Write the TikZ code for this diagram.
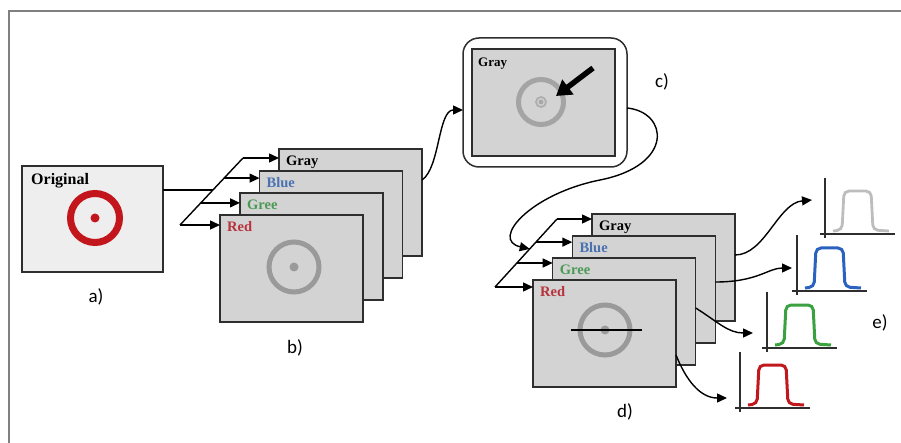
\documentclass[tikz,border=0pt]{standalone}
\usepackage{fontspec}
\setmainfont{Liberation Serif}
\newfontfamily\labfont{Carlito}
\usetikzlibrary{arrows.meta,calc}
\definecolor{boxline}{HTML}{2E2E2E}
\definecolor{boxgray}{HTML}{D3D3D3}
\definecolor{lightpanel}{HTML}{EEEEEE}
\definecolor{ringred}{HTML}{C3161C}
\definecolor{ringgray}{HTML}{9A9A9A}
\definecolor{framecol}{HTML}{808080}
\definecolor{labblue}{HTML}{4A72B0}
\definecolor{labgreen}{HTML}{4A9A55}
\definecolor{labred}{HTML}{B8323C}
\definecolor{plotgray}{HTML}{BDBDBD}
\definecolor{plotblue}{HTML}{2B62C0}
\definecolor{plotgreen}{HTML}{3AA040}
\definecolor{plotred}{HTML}{C0181C}
\newcommand\drawprofile[4]{%
  \begin{scope}[shift={(#1,#2)}]
    \draw[line width=1.3pt, draw=boxline] (0,4) -- (0,-56);
    \draw[line width=1.3pt, draw=boxline] (-5,0) -- (70,0);
    \draw[line width=#4, draw=#3, rounded corners=5pt] (8,-3) -- (17,-4) -- (19,-43) -- (46,-43) -- (48,-4) -- (64,-3);
  \end{scope}}
\begin{document}
\begin{tikzpicture}[x=1pt,y=-1pt,
  panel/.style={draw=boxline, line width=1.5pt, fill=boxgray, minimum width=143pt, minimum height=107pt, inner sep=0pt, outer sep=0pt, anchor=north west},
  chan/.style={anchor=base west, inner sep=0pt, font=\bfseries\fontsize{14.5}{17}\selectfont},
  arr/.style={line width=1.4pt, draw=black, -{Triangle[length=10pt,width=9pt]}},
  conn/.style={line width=1.4pt, draw=black},
  tag/.style={font=\labfont\fontsize{19}{22}\selectfont, inner sep=0pt},
  ring/.style={line width=5pt, draw=ringgray},
]
\useasboundingbox (0,0) rectangle (901,443);
\draw[framecol, line width=1.5pt] (9,443) -- (9,11) -- (901,11);

% ---- a) original
\node[panel, fill=lightpanel, minimum width=141pt, minimum height=106pt] (a) at (22,166) {};
\node[anchor=base west, inner sep=0pt, font=\bfseries\fontsize{16}{18}\selectfont] (atxt) at ([xshift=9pt,yshift=-19pt]a.north west) {Original};
\draw[line width=7pt, draw=ringred] (95,218) circle (24.5pt);
\fill[ringred] (95,218) circle (4.5pt);
\node[tag] (la) at (96,297) {a)};

% ---- b) channels
\node[panel] (bg) at (279,149) {};
\node[chan] (bgt) at ([xshift=7pt,yshift=-17pt]bg.north west) {Gray};
\node[panel] (bb) at (259.5,171) {};
\node[chan, text=labblue] (bbt) at ([xshift=7pt,yshift=-17pt]bb.north west) {Blue};
\node[panel] (bgr) at (240,193) {};
\node[chan, text=labgreen] (bgrt) at ([xshift=7pt,yshift=-17pt]bgr.north west) {Gree};
\node[panel] (br) at (220,215) {};
\node[chan, text=labred] (brt) at ([xshift=7pt,yshift=-17pt]br.north west) {Red};
\draw[ring] (294,267) circle (25pt);
\fill[ringgray] (294,267) circle (4.5pt);
\node[tag] (lb) at (295,348) {b)};

\coordinate (bs0) at (180,225);
\coordinate (bs1) at (243,158);
\coordinate (bt1) at ($(bs0)!0.33!(bs1)$);
\coordinate (bt2) at ($(bs0)!0.70!(bs1)$);
\coordinate (bt3) at ($(bs0)!0.52!(bs1)$);
\draw[conn] (bs0) -- (bs1);
\draw[conn] (a.east |- bt3) -- (bt3);
\draw[arr] (bs1) -- (bg.west |- bs1);
\draw[arr] (bt2) -- (bb.west |- bt2);
\draw[arr] (bt1) -- (bgr.west |- bt1);
\draw[arr] (bs0) -- (br.west |- bs0);

% ---- c) selected gray image
\node[draw=boxline, line width=1.5pt, fill=white, rounded corners=16pt, minimum width=164pt, minimum height=129pt, anchor=north west, inner sep=0pt, outer sep=0pt] (cout) at (463,38) {};
\node[panel] (cin) at (472,49) {};
\node[chan, font=\bfseries\fontsize{13}{15}\selectfont] (cint) at ([xshift=6pt,yshift=-18pt]cin.north west) {Gray};
\draw[ring, draw=ringgray!90] (541,102) circle (22.5pt);
\draw[line width=1.8pt, draw=ringgray!80] (541,102) circle (5pt);
\fill[ringgray!110!black] (541,102) circle (2.5pt);
\coordinate (pa) at (593,68);
\coordinate (pb) at (556,96);
\draw[line width=5.5pt, -{Triangle[length=15pt,width=18pt]}] (pa) -- (pb);
\node[tag] (lc) at (662,82) {c)};

\draw[arr] ([yshift=22.5pt]bg.east) .. controls (440,168) and (438,110) .. ([yshift=-7.5pt]cout.west);

% ---- d) channels with profile line
\node[panel] (dg) at (592,214) {};
\node[chan] (dgt) at ([xshift=7pt,yshift=-17pt]dg.north west) {Gray};
\node[panel] (db) at (572.3,236) {};
\node[chan, text=labblue] (dbt) at ([xshift=7pt,yshift=-17pt]db.north west) {Blue};
\node[panel] (dgr) at (552.7,258) {};
\node[chan, text=labgreen] (dgrt) at ([xshift=7pt,yshift=-17pt]dgr.north west) {Gree};
\node[panel] (dr) at (533,280) {};
\node[chan, text=labred] (drt) at ([xshift=7pt,yshift=-17pt]dr.north west) {Red};
\draw[ring] (605,330) circle (25pt);
\fill[ringgray] (605,330) circle (4.5pt);
\coordinate (dl0) at (571,330);
\coordinate (dl1) at (642,330);
\draw[line width=1.4pt] (dl0) -- (dl1);
\node[tag] (ld) at (625,412) {d)};

\coordinate (ds0) at (495,287);
\coordinate (ds1) at (557,219);
\coordinate (dt1) at ($(ds0)!0.353!(ds1)$);
\coordinate (dt2) at ($(ds0)!0.66!(ds1)$);
\coordinate (dt3) at ($(ds0)!0.56!(ds1)$);
\draw[conn] (ds0) -- (ds1);
\draw[arr] (ds1) -- (dg.west |- ds1);
\draw[arr] (dt2) -- (db.west |- dt2);
\draw[arr] (dt1) -- (dgr.west |- dt1);
\draw[arr] (ds0) -- (dr.west |- ds0);

\draw[arr] ([yshift=-5.5pt]cout.east) .. controls (668,112) and (675,165) .. (600,180) .. controls (530,194) and (490,240) .. (dt3);

% ---- e) profiles
\drawprofile{825}{234}{plotgray}{2.8pt}
\drawprofile{797}{291}{plotblue}{3pt}
\drawprofile{767}{348}{plotgreen}{3pt}
\drawprofile{740}{408}{plotred}{3pt}
\coordinate (eg) at (812,200);
\coordinate (eb) at (792,268);
\coordinate (egr) at (753,333);
\coordinate (er) at (727,398);
\draw[arr] ([yshift=12.5pt]dg.east) .. controls (765,255) and (778,203) .. (eg);
\draw[arr] ([yshift=7.5pt]db.east) .. controls (758,282) and (768,268) .. (eb);
\draw[arr] ([yshift=3.5pt]dgr.east) .. controls (718,322) and (728,333) .. (egr);
\draw[arr] ([yshift=-21.5pt]dr.east) .. controls (686,380) and (700,398) .. (er);
\node[tag] (le) at (880,323) {e)};
\end{tikzpicture}
\end{document}
